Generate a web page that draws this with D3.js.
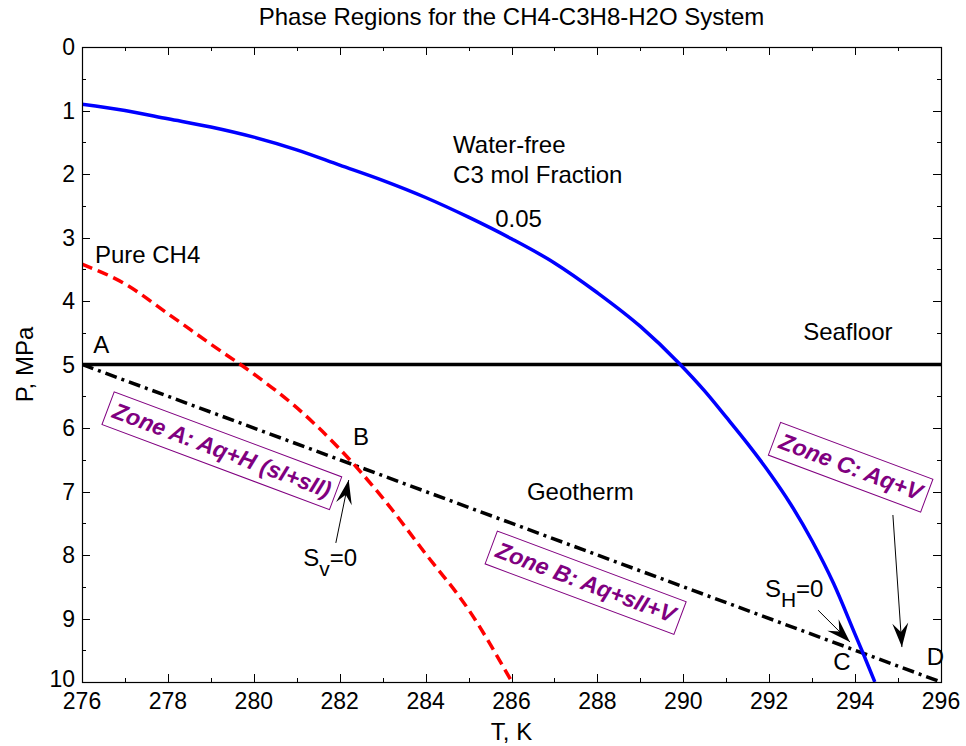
<!DOCTYPE html>
<html>
<head>
<meta charset="utf-8">
<script src="https://cdn.jsdelivr.net/npm/d3@7"></script>
<style>
body{margin:0;background:#fff;}
text{font-family:"Liberation Sans",Arial,sans-serif;}
</style>
</head>
<body>
<svg id="chart"></svg>
<script>
// temperature (K) and pressure (MPa) ticks
var tempTicks = [276,278,280,282,284,286,288,290,292,294,296];
var pressTicks = [0,1,2,3,4,5,6,7,8,9,10];

// water-free C3 mol fraction 0.05 curve
var blueT = [276,277,278,279,280,281,282,283,284,285,286,287,288,289,289.9,290.5,291,291.5,292,292.5,293,293.5,294,294.2,294.46];
var blueP = [0.9,1.0,1.13,1.26,1.42,1.62,1.86,2.1,2.37,2.68,3.02,3.4,3.87,4.4,4.98,5.42,5.83,6.25,6.7,7.2,7.78,8.45,9.25,9.57,10];

// pure CH4 curve
var redT = [276,277,278,279,280,281,282,283,284,285,286.01];
var redP = [3.42,3.73,4.2,4.68,5.15,5.68,6.33,7.1,7.98,8.86,10];

// geotherm and seafloor
var geoT = [276,296];
var geoP = [5,10];
var seafloorP = 5;

// text labels [text, T, P]
var labels = [
  ["Pure CH4",276.3,3.4],
  ["A",276.26,4.82],
  ["B",282.31,6.27],
  ["Water-free",284.64,1.67],
  ["C3 mol Fraction",284.64,2.14],
  ["0.05",285.62,2.83],
  ["Seafloor",292.79,4.61],
  ["Geotherm",286.36,7.13],
  ["C",293.49,9.81],
  ["D",295.67,9.73]
];
// saturation labels [main, sub, T, P]
var satLabels = [["S","v",281.15,8.17],["S","H",291.9,8.66]];

// zone boxes [text, centre T, centre P]
var zones = [
  ["Zone A: Aq+H (sI+sII)",279.26,6.35],
  ["Zone B: Aq+sII+V",287.73,8.43],
  ["Zone C: Aq+V",293.9,6.61]
];

// arrows [fromT, fromP, toT, toP]
var arrows = [
  [281.91,7.81,282.21,6.82],
  [293.14,8.87,293.88,9.37],
  [294.88,7.37,295.09,9.45]
];

var screen = {width:966,height:746};
var margins = {top:47,left:82,right:25,bottom:64};
var graph = {width:screen.width-margins.left-margins.right,height:screen.height-margins.top-margins.bottom};

var svg = d3.select("#chart").attr("width",screen.width).attr("height",screen.height);
svg.append("rect").attr("width",screen.width).attr("height",screen.height).attr("fill","#fff");

var xScale = d3.scaleLinear().domain([276,296]).range([0,graph.width]);
var yScale = d3.scaleLinear().domain([0,10]).range([0,graph.height]);

var g = svg.append("g").attr("transform","translate("+margins.left+","+margins.top+")");

// ticks on all four sides, pointing inward
var xMinor = d3.range(276,297,1), yMinor = d3.range(0,10.01,0.5);
var tickG = g.append("g").attr("stroke","#000").attr("stroke-width",1);
xMinor.forEach(function(t){
  var len = (t%2===0)?8:4, x = Math.round(xScale(t))+0.5;
  tickG.append("line").attr("x1",x).attr("x2",x).attr("y1",graph.height).attr("y2",graph.height-len);
  tickG.append("line").attr("x1",x).attr("x2",x).attr("y1",0).attr("y2",len);
});
yMinor.forEach(function(p){
  var len = (Math.abs(p-Math.round(p))<0.01)?8:4, y = Math.round(yScale(p))+0.5;
  tickG.append("line").attr("y1",y).attr("y2",y).attr("x1",0).attr("x2",len);
  tickG.append("line").attr("y1",y).attr("y2",y).attr("x1",graph.width).attr("x2",graph.width-len);
});

// tick labels
g.append("g").selectAll("text").data(tempTicks).enter().append("text")
  .attr("x",function(d){return xScale(d);}).attr("y",graph.height+27)
  .attr("text-anchor","middle").attr("font-size",23).text(function(d){return d;});
g.append("g").selectAll("text").data(pressTicks).enter().append("text")
  .attr("x",-7).attr("y",function(d){return yScale(d)+(d===10?5:8);})
  .attr("text-anchor","end").attr("font-size",23).text(function(d){return d;});

// lines
var line = d3.line().x(function(d){return xScale(d[0]);}).y(function(d){return yScale(d[1]);});
g.append("defs").append("clipPath").attr("id","clip").append("rect").attr("width",graph.width).attr("height",graph.height);
var plot = g.append("g").attr("clip-path","url(#clip)");

plot.append("path").datum([[276,seafloorP],[296,seafloorP]]).attr("d",line)
  .attr("stroke","#000").attr("stroke-width",3.5).attr("fill","none");
plot.append("path").datum(geoT.map(function(t,i){return [t,geoP[i]];})).attr("d",line)
  .attr("stroke","#000").attr("stroke-width",3.5).attr("fill","none").attr("stroke-dasharray","12,5,3,5");
plot.append("path").datum(redT.map(function(t,i){return [t,redP[i]];})).attr("d",line.curve(d3.curveMonotoneX))
  .attr("stroke","#ff0000").attr("stroke-width",3.5).attr("fill","none").attr("stroke-dasharray","11,6");
plot.append("path").datum(blueT.map(function(t,i){return [t,blueP[i]];})).attr("d",line.curve(d3.curveMonotoneX))
  .attr("stroke","#0000ff").attr("stroke-width",3.5).attr("fill","none");

// frame
g.append("rect").attr("x",0.5).attr("y",0.5).attr("width",graph.width).attr("height",graph.height)
  .attr("fill","none").attr("stroke","#000").attr("stroke-width",1.2);

// text labels
g.append("g").selectAll("text").data(labels).enter().append("text")
  .attr("x",function(d){return xScale(d[1]);}).attr("y",function(d){return yScale(d[2]);})
  .attr("font-size",24).text(function(d){return d[0];});

satLabels.forEach(function(d){
  var t = g.append("text").attr("x",xScale(d[2])).attr("y",yScale(d[3])).attr("font-size",24);
  t.append("tspan").text(d[0]);
  t.append("tspan").attr("dy",10).attr("font-size",21).text(d[1]);
  t.append("tspan").attr("dy",-10).text("=0");
});

// zone boxes
zones.forEach(function(d){
  var zg = g.append("g").attr("transform","translate("+xScale(d[1])+","+yScale(d[2])+") rotate(20.5)");
  var t = zg.append("text").attr("text-anchor","middle").attr("y",8)
    .attr("font-size",23).attr("font-weight","bold").attr("font-style","italic")
    .attr("fill","#800080").text(d[0]);
  var w = t.node().getComputedTextLength()+12;
  zg.insert("rect","text").attr("x",-w/2).attr("y",-17).attr("width",w).attr("height",35)
    .attr("fill","#fff").attr("stroke","#800080").attr("stroke-width",1);
});

// arrows
arrows.forEach(function(d){
  var x1=xScale(d[0]),y1=yScale(d[1]),x2=xScale(d[2]),y2=yScale(d[3]);
  var ang = Math.atan2(y2-y1,x2-x1)*180/Math.PI;
  g.append("line").attr("x1",x1).attr("y1",y1).attr("x2",x2).attr("y2",y2)
    .attr("stroke","#000").attr("stroke-width",1);
  g.append("path").attr("d","M0,0 L-24,-8 L-15,0 L-24,8 Z")
    .attr("transform","translate("+x2+","+y2+") rotate("+ang+")").attr("fill","#000");
});

// title and axis labels
svg.append("text").attr("x",margins.left+graph.width/2).attr("y",25).attr("text-anchor","middle")
  .attr("font-size",24).text("Phase Regions for the CH4-C3H8-H2O System");
svg.append("text").attr("x",margins.left+graph.width/2).attr("y",740).attr("text-anchor","middle")
  .attr("font-size",24).text("T, K");
svg.append("text").attr("transform","translate(33,"+(margins.top+graph.height/2)+") rotate(-90)")
  .attr("text-anchor","middle").attr("font-size",24).text("P, MPa");
</script>
</body>
</html>
